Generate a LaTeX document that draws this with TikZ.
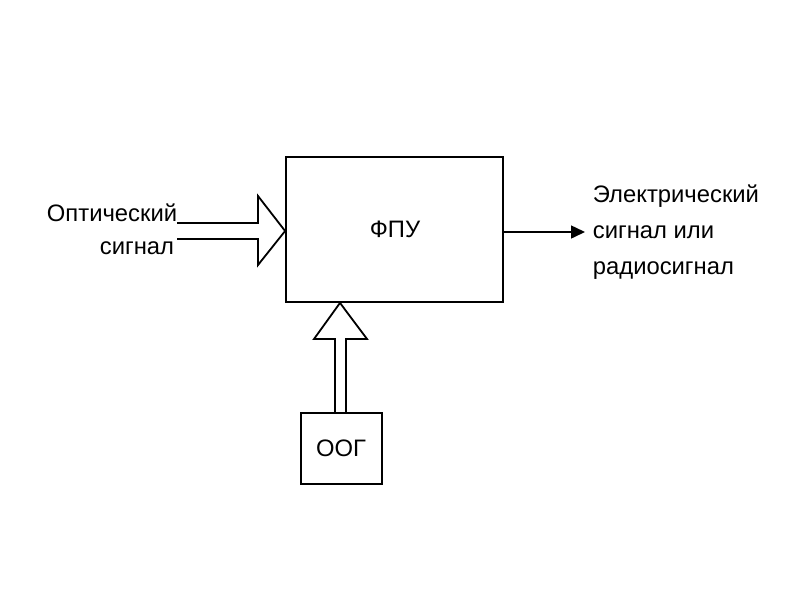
\documentclass[tikz,border=0pt]{standalone}
\usepackage{fontspec}
\setmainfont{Liberation Sans}
\usetikzlibrary{arrows.meta}
\begin{document}
\begin{tikzpicture}[x=1pt,y=-1pt,
  line width=1.8pt,
  box/.style={draw,rectangle,inner sep=0pt},
  lbl/.style={font=\fontsize{23.8}{36}\selectfont,inner sep=0pt}]
\useasboundingbox (0,0) rectangle (800,600);
% main box
\node[box,minimum width=217pt,minimum height=145pt] (fpu) at (394.5,229.5) {};
\node[lbl] (fputext) at (395,229) {ФПУ};
% OOG box
\node[box,minimum width=81pt,minimum height=71pt] (oog) at (341.5,448.5) {};
\node[lbl] (oogtext) at (341,448) {ООГ};
% left hollow arrow
\coordinate (ltip) at (fpu.west |- 0,231);
\draw (177,223) -- (258,223) -- (258,196) -- (ltip) -- (258,265) -- (258,239) -- (177,239);
% bottom hollow arrow
\coordinate (btip) at (340,0 |- fpu.south);
\draw (oog.north -| 335,0) -- (335,339) -- (314,339) -- (btip) -- (367,339) -- (346,339) -- (oog.north -| 346,0);
% right arrow
\coordinate (rend) at (585,232);
\draw[-{Triangle[length=14pt,width=13pt]},line width=1.5pt] (fpu.east |- rend) -- (rend);
% texts
\node[lbl,anchor=east] (opt1) at (178,213) {Оптический};
\node[lbl,anchor=east] (opt2) at (175,248) {сигнал};
\node[lbl,anchor=west,align=left] (el) at (592,232) {Электрический\\сигнал или\\радиосигнал};
\end{tikzpicture}
\end{document}
